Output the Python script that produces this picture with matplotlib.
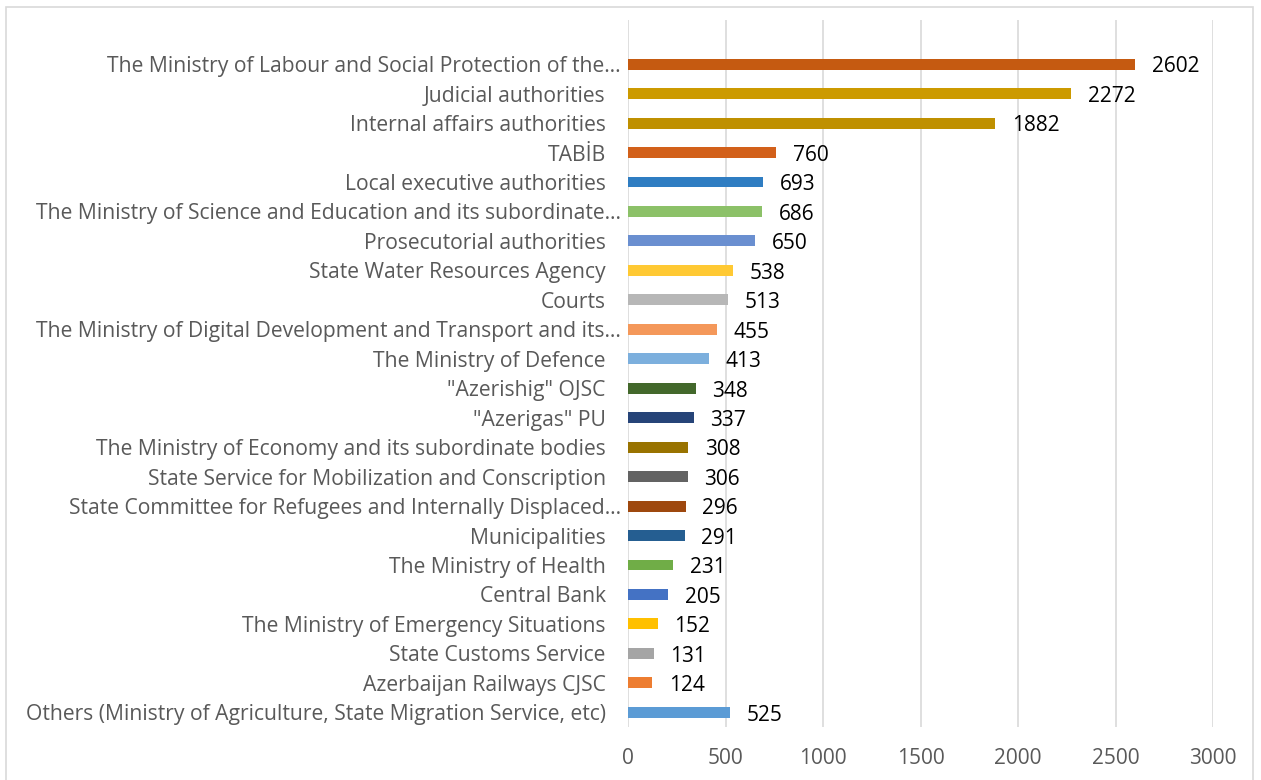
import matplotlib.pyplot as plt
from matplotlib.patches import Rectangle
from matplotlib.transforms import ScaledTranslation
import numpy as np

# Appeals by organisation
categories = [
    'The Ministry of Labour and Social Protection of the\u2026',
    'Judicial authorities',
    'Internal affairs authorities',
    'TAB\u0130B',
    'Local executive authorities',
    'The Ministry of Science and Education and its subordinate\u2026',
    'Prosecutorial authorities',
    'State Water Resources Agency',
    'Courts',
    'The Ministry of Digital Development and Transport and its\u2026',
    'The Ministry of Defence',
    '"Azerishig" OJSC',
    '"Azerigas" PU',
    'The Ministry of Economy and its subordinate bodies',
    'State Service for Mobilization and Conscription',
    'State Committee for Refugees and Internally Displaced\u2026',
    'Municipalities',
    'The Ministry of Health',
    'Central Bank',
    'The Ministry of Emergency Situations',
    'State Customs Service',
    'Azerbaijan Railways CJSC',
    'Others (Ministry of Agriculture, State Migration Service, etc)',
]
values = [2602, 2272, 1882, 760, 693, 686, 650, 538, 513, 455, 413, 348,
          337, 308, 306, 296, 291, 231, 205, 152, 131, 124, 525]
bar_colors = ['#C55A11', '#CC9A00', '#BF9000', '#D2601A', '#2F7DC2',
              '#8CC168', '#6A8FD0', '#FFC933', '#B7B7B7', '#F4985A',
              '#7CAFDD', '#43682B', '#264478', '#997300', '#636363',
              '#9E480E', '#255E91', '#70AD47', '#4472C4', '#FFC000',
              '#A5A5A5', '#ED7D31', '#5B9BD5']
x_ticks = [0, 500, 1000, 1500, 2000, 2500, 3000]

plt.rcParams['font.family'] = ['Open Sans', 'DejaVu Sans']

fig = plt.figure(figsize=(12.61, 7.8), dpi=100)
fig.patches.append(Rectangle((6 / 1261, -0.01), 1247 / 1261, 0.9999 - 7 / 780 + 0.01,
                             transform=fig.transFigure, fill=False,
                             edgecolor='#D9D9D9', linewidth=1.2))
ax = fig.add_axes([628 / 1261, 53 / 780, 585 / 1261, 707 / 780])

n = len(categories)
ypos = np.arange(n)[::-1]
ax.barh(ypos, values, height=0.37, color=bar_colors, zorder=3)

for y, v in zip(ypos, values):
    ax.annotate(str(v), (v, y), xytext=(12, -2), textcoords='offset points',
                ha='left', va='center', fontsize=15, color='#000000')

ax.set_xlim(0, 3000)
ax.set_ylim(-0.5, n + 0.5)
ax.set_xticks(x_ticks)
ax.set_xticklabels([str(t) for t in x_ticks])
ax.set_yticks(ypos)
ax.set_yticklabels(categories)
ax.tick_params(axis='both', length=0, colors='#595959', labelsize=15.2)
ax.tick_params(axis='x', labelsize=15, pad=15)
ax.tick_params(axis='y', pad=16)
ax.grid(axis='x', color='#D9D9D9', linewidth=1.2, zorder=0)
for s in ax.spines.values():
    s.set_visible(False)

# truncated names run a little closer to the axis
shift = ScaledTranslation(0.15, 0, fig.dpi_scale_trans)
for lbl in ax.get_yticklabels():
    if lbl.get_text().endswith('\u2026'):
        lbl.set_transform(lbl.get_transform() + shift)

fig.savefig('out.png', dpi=100)
